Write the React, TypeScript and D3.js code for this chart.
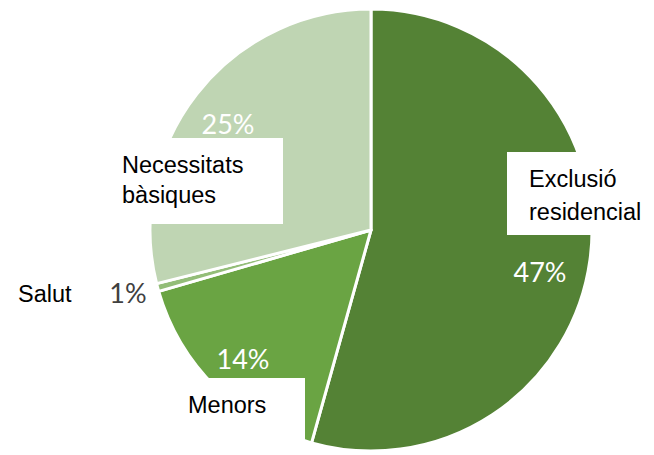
import React from "react";
import * as d3 from "d3";

const categories = ["Exclusió residencial", "Menors", "Salut", "Necessitats bàsiques"];
const values = [47, 14, 0.5, 25];
const percentLabels = ["47%", "14%", "1%", "25%"];
const colors = ["#548235", "#6aa443", "#93bd78", "#bfd5b3"];

// layout (pixel positions of annotations)
const W = 654, H = 455;
const CX = 371, CY = 230, R = 221;
const pctPos: [number, number, string][] = [
  [540, 282, "#ffffff"],
  [243, 369, "#ffffff"],
  [128, 303, "#404040"],
  [228, 134, "#ffffff"],
];
const boxes = [
  { x: 507, y: 152, w: 147, h: 83, lines: ["Exclusió", "residencial"], tx: 529, ty: [187, 220], fs: 23.5 },
  { x: 204, y: 378, w: 101, h: 63, lines: ["Menors"], tx: 188, ty: [413], fs: 23.5 },
  { x: 0, y: 280, w: 0, h: 0, lines: ["Salut"], tx: 18, ty: [302], fs: 23.5 },
  { x: 100, y: 138, w: 183, h: 86, lines: ["Necessitats", "bàsiques"], tx: 122, ty: [173, 203], fs: 23.5 },
];

export default function App() {
  const pie = d3.pie<number>().sort(null).value((d) => d);
  const arcs = pie(values);
  const arc = d3.arc<d3.PieArcDatum<number>>().innerRadius(0).outerRadius(R);
  return (
    <svg width={W} height={H} style={{ position: "absolute", left: 0, top: 0, background: "#fff" }}>
      <g transform={`translate(${CX},${CY})`}>
        {arcs.map((a, i) => (
          <path key={categories[i]} d={arc(a) || ""} fill={colors[i]} stroke="#ffffff" strokeWidth={3} strokeLinejoin="round" />
        ))}
      </g>
      {boxes.map((b, i) => (
        <g key={"b" + i}>
          {b.w > 0 && <rect x={b.x} y={b.y} width={b.w} height={b.h} fill="#ffffff" />}
          {b.lines.map((l, j) => (
            <text key={j} x={b.tx} y={b.ty[j]} fontFamily="'Liberation Sans', Arial, sans-serif" fontSize={b.fs} fill="#000">
              {l}
            </text>
          ))}
        </g>
      ))}
      {percentLabels.map((p, i) => (
        <text key={"p" + i} x={pctPos[i][0]} y={pctPos[i][1]} textAnchor="middle" fontFamily="Lato, 'Open Sans', sans-serif" fontSize={27} fill={pctPos[i][2]}>
          {p}
        </text>
      ))}
    </svg>
  );
}
